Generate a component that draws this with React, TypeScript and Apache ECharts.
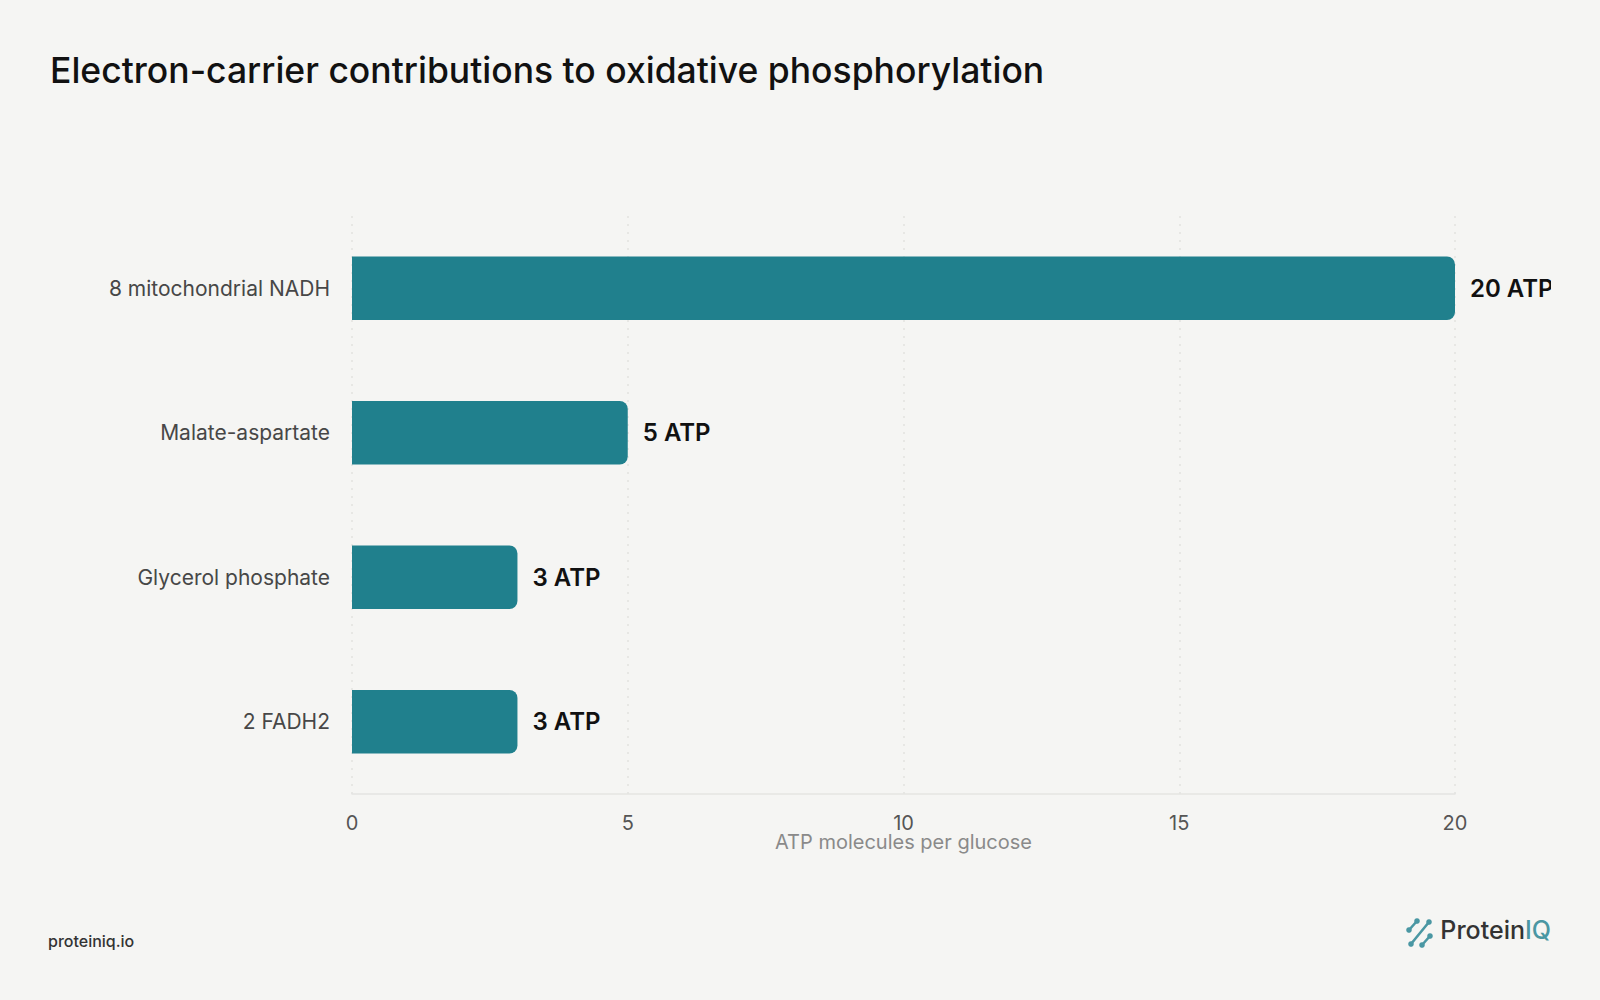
import React, { useEffect, useRef } from "react";
import * as echarts from "echarts";

const categories = ["8 mitochondrial NADH", "Malate-aspartate", "Glycerol phosphate", "2 FADH2"];
const atpValues = [20, 5, 3, 3];
const xTicks = { min: 0, max: 20, interval: 5 };

const TITLE = "Electron-carrier contributions to oxidative phosphorylation";
const X_NAME = "ATP molecules per glucose";

const BG = "#F5F5F3";
const TEAL = "#20808D";
const FONT = "Inter, 'Noto Sans', sans-serif";

export default function App() {
  const ref = useRef<HTMLDivElement>(null);

  useEffect(() => {
    if (!ref.current) return;
    const chart = echarts.init(ref.current, null, { renderer: "svg" });
    const iconColor = "#4A97A3";
    const icon = (x1: number, y1: number, x2: number, y2: number) => [
      { type: "line", shape: { x1, y1, x2, y2 }, style: { stroke: iconColor, lineWidth: 2.6, lineCap: "round" } },
      { type: "circle", shape: { cx: x1, cy: y1, r: 2.8 }, style: { fill: iconColor } },
      { type: "circle", shape: { cx: x2, cy: y2, r: 2.8 }, style: { fill: iconColor } },
    ];
    chart.setOption({
      animation: false,
      backgroundColor: BG,
      textStyle: { fontFamily: FONT },
      grid: { left: 352, top: 216, right: 96, height: 578, containLabel: false },
      xAxis: {
        type: "value",
        min: xTicks.min,
        max: xTicks.max,
        interval: xTicks.interval,
        name: X_NAME,
        nameLocation: "middle",
        nameGap: 38,
        nameMoveOverlap: false,
        nameTextStyle: { color: "#8A8A8A", fontSize: 20, fontFamily: FONT },
        axisLine: { show: true, lineStyle: { color: "#E4E4E2", width: 1.5 } },
        axisTick: { show: false },
        axisLabel: { color: "#555", fontSize: 20, margin: 19, fontFamily: FONT },
        splitLine: { show: true, lineStyle: { color: "#E2E2E0", type: [2, 6], width: 1.5 } },
      },
      yAxis: {
        type: "category",
        data: categories,
        inverse: true,
        axisLine: { show: false },
        axisTick: { show: false },
        splitLine: { show: false },
        axisLabel: { color: "#474747", fontSize: 21, margin: 22, fontFamily: FONT },
      },
      series: [
        {
          type: "bar",
          data: atpValues,
          barWidth: "44%",
          itemStyle: { color: TEAL, borderRadius: [0, 8, 8, 0] },
          label: {
            show: true,
            position: "right",
            distance: 15,
            formatter: "{c} ATP",
            fontSize: 24,
            fontWeight: 600,
            color: "#111",
            fontFamily: FONT,
          },
        },
      ],
      graphic: [
        {
          type: "text",
          left: 50,
          top: 52,
          style: { text: TITLE, fontSize: 35.5, fontWeight: 500, fill: "#111", fontFamily: FONT },
        },
        {
          type: "text",
          left: 48,
          top: 933,
          style: { text: "proteiniq.io", fontSize: 16, fontWeight: 500, fill: "#333", fontFamily: FONT },
        },
        {
          type: "text",
          right: 0,
          top: 917,
          style: {
            text: "{a|Protein}{b|IQ}",
            rich: {
              a: { fontSize: 25, fontWeight: 500, fill: "#333", fontFamily: FONT },
              b: { fontSize: 25, fontWeight: 500, fill: "#4A97A3", fontFamily: FONT },
            },
          },
        },
        ...icon(1409, 930, 1417, 921),
        ...icon(1411, 944, 1429, 922),
        ...icon(1422, 945, 1430, 936),
      ],
    });
    return () => chart.dispose();
  }, []);

  return (
    <div style={{ position: "absolute", left: 0, top: 0, width: 1600, height: 1000, background: BG, overflow: "hidden" }}>
      <div ref={ref} style={{ width: 1551, height: 1000 }} />
    </div>
  );
}
